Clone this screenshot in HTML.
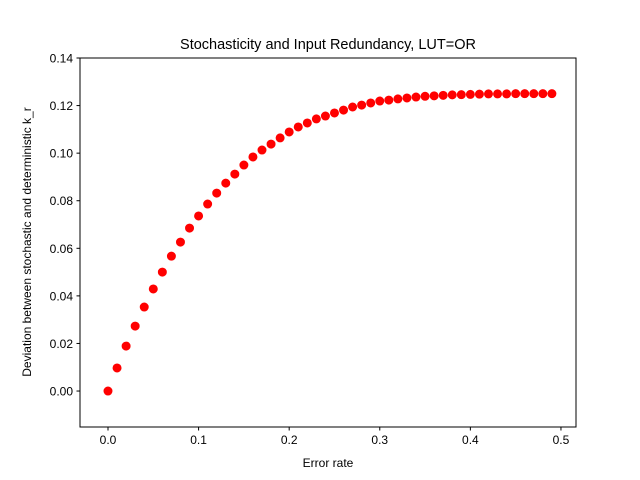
<!DOCTYPE html>
<html><head><meta charset="utf-8"><style>
body{margin:0;background:#fff;}
svg{display:block;font-family:"Liberation Sans","DejaVu Sans",sans-serif;}
</style></head><body>
<svg id="chart" width="640" height="480"></svg>
<script>
const errorRates = [0,0.01,0.02,0.03,0.04,0.05,0.06,0.07,0.08,0.09,0.10,0.11,0.12,0.13,0.14,0.15,0.16,0.17,0.18,0.19,0.20,0.21,0.22,0.23,0.24,0.25,0.26,0.27,0.28,0.29,0.30,0.31,0.32,0.33,0.34,0.35,0.36,0.37,0.38,0.39,0.40,0.41,0.42,0.43,0.44,0.45,0.46,0.47,0.48,0.49];
const deviations = [0,0.0097,0.0189,0.0273,0.0353,0.0429,0.0500,0.0567,0.0626,0.0685,0.0736,0.0786,0.0832,0.0874,0.0912,0.0950,0.0984,0.1013,0.1038,0.1064,0.1089,0.1110,0.1127,0.1144,0.1156,0.1169,0.1181,0.1194,0.1202,0.1211,0.1219,0.1223,0.1228,0.1232,0.1236,0.1239,0.1241,0.1243,0.1245,0.1246,0.1247,0.1248,0.1249,0.1249,0.1249,0.1250,0.1250,0.1250,0.1250,0.1250];
const xTicks = [0.0,0.1,0.2,0.3,0.4,0.5];
const xTickLabels = ["0.0","0.1","0.2","0.3","0.4","0.5"];
const yTicks = [0,0.02,0.04,0.06,0.08,0.10,0.12,0.14];
const yTickLabels = ["0.00","0.02","0.04","0.06","0.08","0.10","0.12","0.14"];

const NS="http://www.w3.org/2000/svg";
const svg=document.getElementById('chart');
const L=80,R=576,T=58,B=427;
const xmin=-0.0309,xmax=0.5166,ymin=-0.01512,ymax=0.14;
const sx=v=>L+(v-xmin)/(xmax-xmin)*(R-L);
const sy=v=>B-(v-ymin)/(ymax-ymin)*(B-T);
function mk(tag,attrs,text){const e=document.createElementNS(NS,tag);for(const k in attrs)e.setAttribute(k,attrs[k]);if(text!==undefined)e.textContent=text;svg.appendChild(e);return e;}

const title=mk('text',{x:328,y:49,'text-anchor':'middle','font-size':14.5},'Stochasticity and Input Redundancy, LUT=OR');



errorRates.forEach((x,i)=>{
  const c=mk('circle',{cx:sx(x),cy:sy(deviations[i]),r:4.0,fill:'#ff0000',stroke:'#ff0000'});
  
  
});

const frame=mk('rect',{x:L,y:T,width:R-L,height:B-T,fill:'none',stroke:'#000','stroke-width':1});



xTicks.forEach((v,i)=>{
  const x=sx(v);
  const t=mk('line',{x1:x,x2:x,y1:B,y2:B+3.5,stroke:'#000'});
  
  
  const l=mk('text',{x:x,y:B+17,'text-anchor':'middle','font-size':12},xTickLabels[i]);
  
  
});
yTicks.forEach((v,i)=>{
  const y=sy(v);
  const t=mk('line',{x1:L-3.5,x2:L,y1:y,y2:y,stroke:'#000'});
  
  
  const l=mk('text',{x:L-7,y:y+4.5,'text-anchor':'end','font-size':12},yTickLabels[i]);
  
  
});
const xt=mk('text',{x:328,y:467,'text-anchor':'middle','font-size':12},'Error rate');


const yt=mk('text',{x:0,y:0,'text-anchor':'middle','font-size':12,transform:'translate(31,242) rotate(-90)'},'Deviation between stochastic and deterministic k_r');


</script>
</body></html>
